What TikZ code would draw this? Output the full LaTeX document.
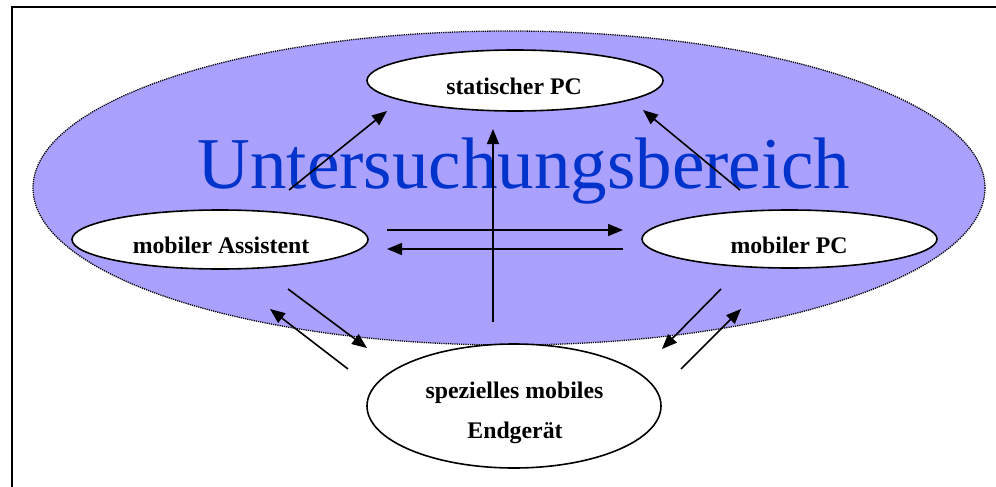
\documentclass[tikz,border=0pt]{standalone}
\usepackage{fontspec}
\setmainfont{Liberation Serif}
\usetikzlibrary{shapes.geometric,arrows.meta}
\definecolor{areafill}{RGB}{170,161,255}
\definecolor{areablue}{RGB}{0,51,204}
\tikzset{
  frameline/.style={line width=2pt,black},
  area/.style={ellipse,draw=black,fill=areafill,line width=1.3pt,dash pattern=on 1.2pt off 1pt,inner sep=0pt},
  devbox/.style={ellipse,draw=black,fill=white,line width=1.6pt,inner sep=0pt},
  devlabel/.style={anchor=base,inner sep=0pt,font=\fontsize{23.8}{28}\selectfont\bfseries},
  arealabel/.style={anchor=base,inner sep=0pt,text=areablue,font=\fontsize{73}{80}\selectfont},
  link/.style={line width=1.6pt,-{Triangle[length=15pt,width=12pt]}}
}
\begin{document}
\begin{tikzpicture}[x=1pt,y=-1pt]
\useasboundingbox (0,0) rectangle (996,487);
\fill[white] (0,0) rectangle (996,487);
% frame
\coordinate (fbl) at (11.5,490);
\coordinate (ftl) at (11.5,7.5);
\coordinate (ftr) at (1000,7.5);
\draw[frameline] (fbl) -- (ftl) -- (ftr);
% area
\node[area,minimum width=952pt,minimum height=314pt] (area) at (509,188) {};
\node[arealabel] (areatext) at (524,188) {Untersuchungsbereich};
% devices
\node[devbox,minimum width=296pt,minimum height=61pt] (spc) at (515,80.5) {};
\node[devlabel] (spct) at (514,94) {statischer PC};
\node[devbox,minimum width=296pt,minimum height=59pt] (ma) at (220,239.5) {};
\node[devlabel] (mat) at (221,253) {mobiler Assistent};
\node[devbox,minimum width=295pt,minimum height=58pt] (mpc) at (789.5,239) {};
\node[devlabel] (mpct) at (789,253) {mobiler PC};
\node[devbox,minimum width=294pt,minimum height=124pt] (sme) at (514,406) {};
\node[devlabel] (smet1) at (514.5,398) {spezielles mobiles};
\node[devlabel] (smet2) at (515,438) {Endgerät};
% arrow endpoints
\coordinate (a1s) at (289,190);   \coordinate (a1e) at (387,111);
\coordinate (a2s) at (493,322);   \coordinate (a2e) at (493,129);
\coordinate (a3s) at (740,190);   \coordinate (a3e) at (643,110);
\coordinate (a4s) at (387,230);   \coordinate (a4e) at (623,230);
\coordinate (a5s) at (623,249);   \coordinate (a5e) at (387,249);
\coordinate (a6s) at (288,289);   \coordinate (a6e) at (367,348);
\coordinate (a7s) at (348,369);   \coordinate (a7e) at (270,309);
\coordinate (a8s) at (721,289);   \coordinate (a8e) at (662,349);
\coordinate (a9s) at (681,369);   \coordinate (a9e) at (741,309);
\foreach \i in {1,...,9} {\draw[link] (a\i s) -- (a\i e);}
\end{tikzpicture}
\end{document}
